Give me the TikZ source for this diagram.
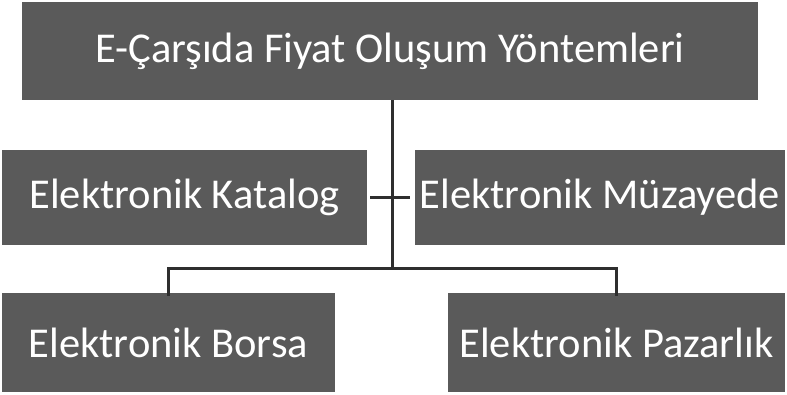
\documentclass[tikz,border=0pt]{standalone}
\usepackage{fontspec}
\setmainfont{Carlito}
\definecolor{boxgray}{HTML}{5A5A5A}
\definecolor{linegray}{HTML}{2E2E2E}
\begin{document}
\begin{tikzpicture}[x=1pt,y=-1pt,
  box/.style={fill=boxgray, draw=none, text=white, inner sep=0pt,
    font=\fontsize{42.5}{46}\selectfont},
  conn/.style={draw=linegray, line width=3pt}]
\useasboundingbox (0,0) rectangle (787,395);
\fill[white] (0,0) rectangle (787,395);
\node[box, minimum width=736pt, minimum height=98pt] (top) at (390,51) {E-Çarşıda Fiyat Oluşum Yöntemleri};
\node[box, minimum width=365pt, minimum height=95pt] (kat) at (184.5,197.5) {Elektronik Katalog};
\node[box, minimum width=370pt, minimum height=95pt] (muz) at (600,197.5) {Elektronik Müzayede};
\node[box, minimum width=333pt, minimum height=99pt] (bor) at (168.5,342.5) {Elektronik Borsa};
\node[box, minimum width=337pt, minimum height=99pt] (paz) at (616.5,342.5) {Elektronik Pazarlık};
\coordinate (trunk) at (392,269);
\draw[conn] (top.south -| trunk) -- (trunk);
\draw[conn] ([xshift=3pt]kat.east) -- ([xshift=-5pt]muz.west);
\draw[conn] (trunk) -- (trunk -| bor.north) -- ([yshift=-3pt]bor.north);
\draw[conn] (trunk) -- (trunk -| paz.north) -- ([yshift=-3pt]paz.north);
\end{tikzpicture}
\end{document}
